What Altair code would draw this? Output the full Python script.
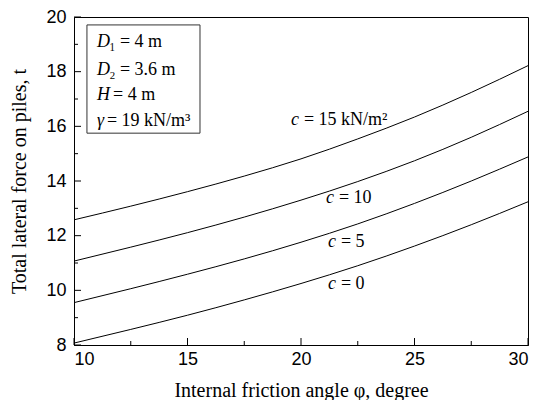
import altair as alt
import pandas as pd

# ---- data ----
phi = [10, 12.5, 15, 17.5, 20, 22.5, 25, 27.5, 30]
c15 = [12.58, 13.08, 13.61, 14.18, 14.81, 15.54, 16.34, 17.24, 18.22]
c10 = [11.07, 11.58, 12.11, 12.68, 13.30, 13.98, 14.74, 15.60, 16.55]
c5 = [9.55, 10.06, 10.59, 11.15, 11.76, 12.43, 13.18, 14.00, 14.88]
c0 = [8.07, 8.57, 9.09, 9.65, 10.25, 10.90, 11.62, 12.40, 13.24]
series_names = ["15", "10", "5", "0"]

x_ticks = [10, 15, 20, 25, 30]
x_minor = [12.5, 17.5, 22.5, 27.5]
y_ticks = [8, 10, 12, 14, 16, 18, 20]
y_minor = [9, 11, 13, 15, 17, 19]

# curve labels: italic "c" then the rest
lab_phi = [19.56, 21.10, 21.19, 21.19]
lab_rest_phi = [20.13, 21.67, 21.76, 21.76]
lab_force = [16.25, 13.38, 11.78, 10.25]
lab_italic = ["c", "c", "c", "c"]
lab_rest = ["= 15 kN/m\u00b2", "= 10", "= 5", "= 0"]

# parameter box
box_phi = [10.57, 15.55]
box_force = [15.75, 19.71]
info_phi = [11.01, 11.01, 11.01, 11.01]
info_rest_phi = [11.55, 11.55, 11.72, 11.45]
info_force = [19.09, 18.07, 17.13, 16.18]
info_italic = ["D", "D", "H", "\u03b3"]
info_rest = ["\u2081 = 4 m", "\u2082 = 3.6 m", "= 4 m", "= 19 kN/m\u00b3"]

rows = []
for name, vals in zip(series_names, [c15, c10, c5, c0]):
    for p, v in zip(phi, vals):
        rows.append({"c": name, "phi": p, "force": v})
df = pd.DataFrame(rows)

labels_df = pd.DataFrame({"phi": lab_phi, "phi_r": lab_rest_phi, "force": lab_force,
                          "it": lab_italic, "rest": lab_rest})
info_df = pd.DataFrame({"phi": info_phi, "phi_r": info_rest_phi, "force": info_force,
                        "it": info_italic, "rest": info_rest})
box_df = pd.DataFrame({"phi": [box_phi[0]], "phi2": [box_phi[1]],
                       "force": [box_force[0]], "force2": [box_force[1]]})

W, H = 454, 328
SERIF = "Liberation Serif"
SANS = "Liberation Sans"

xs = alt.Scale(domain=[10, 30], nice=False, zero=False)
ys = alt.Scale(domain=[8, 20], nice=False, zero=False)

lines = alt.Chart(df).mark_line(color="black", strokeWidth=1, interpolate="monotone").encode(
    x=alt.X("phi:Q", scale=xs,
            axis=alt.Axis(values=x_ticks, title="Internal friction angle \u03c6, degree",
                          labelPadding=5, titlePadding=12)),
    y=alt.Y("force:Q", scale=ys,
            axis=alt.Axis(values=y_ticks, title="Total lateral force on piles, t",
                          labelPadding=8, titlePadding=16)),
    detail="c:N",
)

box = alt.Chart(box_df).mark_rect(fill="white", stroke="#333333", strokeWidth=1).encode(
    x=alt.X("phi:Q", scale=xs), x2="phi2:Q",
    y=alt.Y("force:Q", scale=ys), y2="force2:Q",
)

def italic_text(d):
    return alt.Chart(d).mark_text(align="left", baseline="middle", font=SERIF,
                                  fontStyle="italic", fontSize=18, color="black").encode(
        x=alt.X("phi:Q", scale=xs), y=alt.Y("force:Q", scale=ys), text="it:N")

def rest_text(d):
    return alt.Chart(d).mark_text(align="left", baseline="middle", font=SERIF,
                                  fontSize=18, color="black").encode(
        x=alt.X("phi_r:Q", scale=xs), y=alt.Y("force:Q", scale=ys), text="rest:N")

# inward major and minor tick rules
xt_major = alt.Chart(pd.DataFrame({"phi": x_ticks})).mark_rule(color="black").encode(
    x=alt.X("phi:Q", scale=xs), y=alt.value(H), y2=alt.value(H - 7))
xt_minor = alt.Chart(pd.DataFrame({"phi": x_minor})).mark_rule(color="black").encode(
    x=alt.X("phi:Q", scale=xs), y=alt.value(H), y2=alt.value(H - 4))
yt_major = alt.Chart(pd.DataFrame({"force": y_ticks})).mark_rule(color="black").encode(
    y=alt.Y("force:Q", scale=ys), x=alt.value(0), x2=alt.value(7))
yt_minor = alt.Chart(pd.DataFrame({"force": y_minor})).mark_rule(color="black").encode(
    y=alt.Y("force:Q", scale=ys), x=alt.value(0), x2=alt.value(4))

chart = alt.layer(
    lines, box, xt_major, xt_minor, yt_major, yt_minor,
    italic_text(labels_df), rest_text(labels_df),
    italic_text(info_df), rest_text(info_df),
).properties(
    width=W, height=H,
    autosize=alt.AutoSizeParams(type="none"),
    padding={"left": 66, "top": 9, "right": 10, "bottom": 55},
).configure_view(
    stroke="black", strokeWidth=1,
).configure_axis(
    grid=False, ticks=False, domainColor="black", domainWidth=1,
    labelFont=SANS, labelFontSize=18, labelColor="black",
    titleFont=SERIF, titleFontSize=20, titleFontWeight="normal", titleColor="black",
)

chart.save("out.html", embed_options={"renderer": "svg", "actions": False})
